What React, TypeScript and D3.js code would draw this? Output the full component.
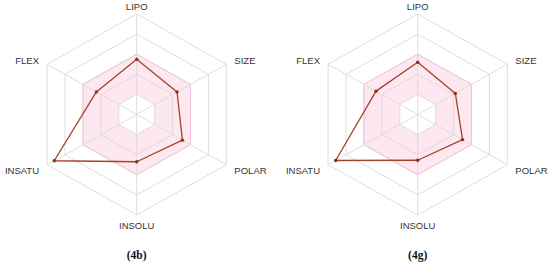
import React from 'react';
import * as d3 from 'd3';

const axes = ['LIPO', 'SIZE', 'POLAR', 'INSOLU', 'INSATU', 'FLEX'];
const values4b = [0.55, 0.45, 0.51, 0.47, 0.92, 0.45];
const values4g = [0.52, 0.42, 0.5, 0.455, 0.915, 0.465];
const captions = ['(4b)', '(4g)'];
const gridLevels = [0.2, 0.4, 0.6, 0.8, 1.0];
const optimalRange = [0.2, 0.6];

const W = 550;
const H = 268;
const R = 100.5;
const SX = 1.03;
const centers = [
  [136.7, 114.5],
  [417.7, 114.5],
];

function Radar({ cx, cy, values, caption }: { cx: number; cy: number; values: number[]; caption: string }) {
  const r = d3.scaleLinear().domain([0, 1]).range([0, R]);
  const angle = d3.scaleLinear().domain([0, axes.length]).range([0, 2 * Math.PI]);
  const ring = (lv: number) =>
    d3
      .lineRadial<number>()
      .angle((_, i) => angle(i))
      .radius(() => r(lv))
      .curve(d3.curveLinearClosed)(axes.map(() => lv)) as string;
  const dataPath = d3
    .lineRadial<number>()
    .angle((_, i) => angle(i))
    .radius((d) => r(d))
    .curve(d3.curveLinearClosed)(values) as string;
  const pt = (rad: number, i: number) => {
    const a = angle(i);
    return [rad * Math.sin(a), -rad * Math.cos(a)];
  };
  return (
    <g>
      <g transform={`translate(${cx},${cy})`}>
        <g transform={`scale(${SX},1)`}>
          <path
            d={ring(optimalRange[1]) + ring(optimalRange[0])}
            fill="#f7a8c8"
            fillOpacity={0.28}
            fillRule="evenodd"
            stroke="none"
          />
          {gridLevels.map((lv) => (
            <path key={lv} d={ring(lv)} fill="none" stroke="#dcd8da" strokeWidth={0.9} vectorEffect="non-scaling-stroke" />
          ))}
          <path d={ring(optimalRange[1])} fill="none" stroke="#efc3d5" strokeWidth={0.9} vectorEffect="non-scaling-stroke" />
          {axes.map((a, i) => {
            const [x, y] = pt(r(1), i);
            return (
              <line key={a} x1={0} y1={0} x2={x} y2={y} stroke="#dcd8da" strokeWidth={0.9} vectorEffect="non-scaling-stroke" />
            );
          })}
          <path
            d={dataPath}
            fill="none"
            stroke="#a4422a"
            strokeWidth={1.3}
            strokeLinejoin="round"
            vectorEffect="non-scaling-stroke"
          />
        </g>
        {values.map((v, i) => {
          const [x, y] = pt(r(v), i);
          return <circle key={i} cx={x * SX} cy={y} r={1.7} fill="#8e2f1c" />;
        })}
        {axes.map((a, i) => {
          const [x, y] = pt(R + 9, i);
          const s = Math.sin(angle(i));
          const anchor = Math.abs(s) < 0.01 ? 'middle' : s > 0 ? 'start' : 'end';
          return (
            <text
              key={a}
              x={x * SX}
              y={y + 2}
              textAnchor={anchor}
              dominantBaseline="middle"
              fontFamily="Liberation Sans, Arial, sans-serif"
              fontSize={9.5}
              fill="#333"
            >
              {a}
            </text>
          );
        })}
      </g>
      <text
        x={cx}
        y={256}
        textAnchor="middle"
        dominantBaseline="middle"
        fontFamily="Liberation Serif, Times New Roman, serif"
        fontWeight="bold"
        fontSize={11.5}
        fill="#111"
      >
        {caption}
      </text>
    </g>
  );
}

export default function App() {
  return (
    <svg width={W} height={H} style={{ position: 'absolute', left: 0, top: 0, background: '#fff' }}>
      <Radar cx={centers[0][0]} cy={centers[0][1]} values={values4b} caption={captions[0]} />
      <Radar cx={centers[1][0]} cy={centers[1][1]} values={values4g} caption={captions[1]} />
    </svg>
  );
}
